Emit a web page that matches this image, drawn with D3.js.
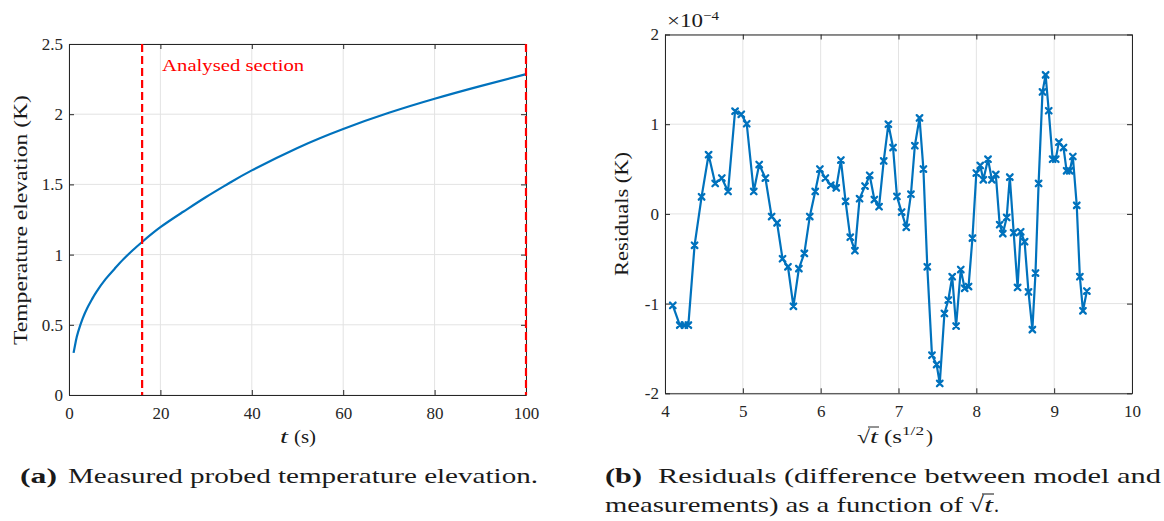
<!DOCTYPE html>
<html><head><meta charset="utf-8">
<script src="https://cdn.jsdelivr.net/npm/d3@7"></script>
<style>
body{margin:0;background:#fff}
text{font-family:"Liberation Serif","DejaVu Serif",serif}
</style>
</head><body>
<svg id="c" width="1164" height="521"></svg>
<script>
// ---------- data: panel (a) ----------
const tempTimes  = [1, 1.5, 2, 3, 4, 5, 6, 8, 10, 12, 14, 16, 20, 25, 30, 35, 40, 50, 60, 70, 80, 90, 100];
const tempValues = [0.30, 0.385, 0.45, 0.545, 0.62, 0.68, 0.735, 0.825, 0.90, 0.97, 1.033, 1.09, 1.195, 1.305, 1.41, 1.508, 1.60, 1.76, 1.895, 2.01, 2.11, 2.20, 2.285];
const sectionBounds = [16, 100];
const tTicks = [0, 20, 40, 60, 80, 100];
const tempTicks = [0, 0.5, 1, 1.5, 2, 2.5];

// ---------- data: panel (b) ----------
const sqrtT = [4.10,4.19,4.25,4.30,4.38,4.47,4.56,4.645,4.73,4.81,4.90,4.98,5.05,5.14,5.21,5.29,5.37,5.44,5.51,5.58,
  5.65,5.72,5.79,5.86,5.93,5.99,6.06,6.13,6.20,6.26,6.32,6.38,6.44,6.50,6.57,6.63,6.69,6.75,6.81,6.87,
  6.93,6.98,7.04,7.10,7.16,7.21,7.27,7.32,7.37,7.43,7.49,7.53,7.59,7.64,7.69,7.74,7.80,7.85,7.90,7.95,
  8.00,8.05,8.09,8.15,8.20,8.25,8.30,8.34,8.39,8.43,8.48,8.53,8.57,8.62,8.67,8.72,8.76,8.80,8.85,8.89,
  8.93,8.98,9.02,9.06,9.12,9.16,9.20,9.24,9.29,9.33,9.37,9.42];
const residuals = [-1.02,-1.24,-1.24,-1.24,-0.35,0.19,0.66,0.34,0.40,0.25,1.145,1.11,1.005,0.25,0.55,0.40,-0.03,-0.10,-0.50,-0.59,
  -1.03,-0.61,-0.44,-0.03,0.25,0.50,0.40,0.32,0.29,0.60,0.14,-0.26,-0.41,0.17,0.31,0.43,0.16,0.08,0.59,1.00,
  0.74,0.195,0.02,-0.15,0.22,0.76,1.07,0.50,-0.59,-1.575,-1.68,-1.89,-1.11,-0.96,-0.70,-1.25,-0.62,-0.83,-0.81,-0.27,
  0.455,0.54,0.38,0.61,0.38,0.44,-0.12,-0.22,-0.04,0.41,-0.21,-0.82,-0.20,-0.31,-0.87,-1.29,-0.66,0.34,1.36,1.55,
  1.15,0.61,0.61,0.80,0.74,0.48,0.48,0.64,0.095,-0.70,-1.08,-0.86]; // units of 1e-4 K
const sqrtTicks = [4, 5, 6, 7, 8, 9, 10];
const residTicks = [-2, -1, 0, 1, 2];

// ---------- drawing ----------
const svg = d3.select('#c');
svg.append('rect').attr('width',1164).attr('height',521).attr('fill','#fff');
const AX = '#262626', GRID = '#e3e3e3', BLUE = '#0072BD', RED = '#FF0000', TXT = '#1a1a1a';

function frame(x, y, xticks, yticks, fmtY) {
  const [x0,x1] = x.range(), [y0,y1] = y.range();
  const g = svg.append('g');
  g.append('g').selectAll('line').data(xticks).join('line')
    .attr('x1',d=>x(d)).attr('x2',d=>x(d)).attr('y1',y0).attr('y2',y1)
    .attr('stroke',GRID).attr('stroke-width',1);
  g.append('g').selectAll('line').data(yticks).join('line')
    .attr('x1',x0).attr('x2',x1).attr('y1',d=>y(d)).attr('y2',d=>y(d))
    .attr('stroke',GRID).attr('stroke-width',1);
  const styleAx = s => { s.select('.domain').attr('stroke',AX); s.selectAll('.tick line').attr('stroke',AX);
     s.selectAll('.tick text').style('fill',AX).attr('font-size',17).style('font-family','"Liberation Serif",serif'); };
  g.append('g').attr('transform',`translate(0,${y0})`)
    .call(d3.axisBottom(x).tickValues(xticks).tickSize(-5).tickPadding(11.5).tickSizeOuter(0).tickFormat(d=>String(d))).call(styleAx);
  g.append('g').attr('transform',`translate(0,${y1})`)
    .call(d3.axisTop(x).tickValues(xticks).tickSize(-5).tickSizeOuter(0).tickFormat('')).call(styleAx);
  g.append('g').attr('transform',`translate(${x0},0)`)
    .call(d3.axisLeft(y).tickValues(yticks).tickSize(-5).tickPadding(6).tickSizeOuter(0).tickFormat(fmtY)).call(styleAx);
  g.append('g').attr('transform',`translate(${x1},0)`)
    .call(d3.axisRight(y).tickValues(yticks).tickSize(-5).tickSizeOuter(0).tickFormat('')).call(styleAx);
  return g;
}

function seq(x, y, parts, size, fill) {
  let cx = x; const nodes = [];
  parts.forEach(p => {
    const t = svg.append('text').attr('x',cx).attr('y',y + (p.dy||0)).attr('font-size',p.size||size).text(p.text)
      .style('fill', p.fill || fill || TXT);
    if (p.italic) t.attr('font-style','italic');
    if (p.bold) t.attr('font-weight','bold');
    if (p.len) t.attr('textLength',p.len).attr('lengthAdjust','spacingAndGlyphs');
    const w = p.len || t.node().getComputedTextLength();
    nodes.push({x:cx, w});
    cx += w + (p.gap||0);
  });
  return nodes;
}

// ----- panel (a) -----
const xL = d3.scaleLinear().domain([0,100]).range([69,526]);
const yL = d3.scaleLinear().domain([0,2.5]).range([395,44]);
frame(xL, yL, tTicks, tempTicks, d=>String(d));
const tempData = tempTimes.map((t,i)=>[t,tempValues[i]]);
svg.append('path').datum(tempData)
  .attr('d', d3.line().x(d=>xL(d[0])).y(d=>yL(d[1])).curve(d3.curveNatural))
  .attr('fill','none').attr('stroke',BLUE).attr('stroke-width',2.2);
svg.append('g').selectAll('line').data(sectionBounds).join('line')
  .attr('x1',d=>xL(d)).attr('x2',d=>xL(d)).attr('y1',yL(2.5)).attr('y2',yL(0))
  .attr('stroke',RED).attr('stroke-width',2.2).attr('stroke-dasharray','8,4');
svg.append('text').attr('x',xL(sectionBounds[0])+20).attr('y',71).attr('font-size',17)
  .style('fill',RED).attr('textLength',142).attr('lengthAdjust','spacingAndGlyphs').text('Analysed section');
svg.append('text').attr('transform','translate(27,220) rotate(-90)').attr('text-anchor','middle').style('fill',TXT)
  .attr('font-size',18.5).attr('textLength',250).attr('lengthAdjust','spacingAndGlyphs').text('Temperature elevation (K)');
seq(280, 443, [{text:'t', italic:true, len:8, gap:6},{text:'(s)', len:22}], 19);

// ----- panel (b) -----
const xR = d3.scaleLinear().domain([4,10]).range([665,1132]);
const yR = d3.scaleLinear().domain([-2,2]).range([393.3,34.5]);
frame(xR, yR, sqrtTicks, residTicks, d=>String(d));
const resData = sqrtT.map((s,i)=>[s,residuals[i]]);
svg.append('path').datum(resData)
  .attr('d', d3.line().x(d=>xR(d[0])).y(d=>yR(d[1])))
  .attr('fill','none').attr('stroke',BLUE).attr('stroke-width',2.2).attr('stroke-linejoin','round');
const mk = svg.append('g').attr('stroke',BLUE).attr('stroke-width',2.3).attr('stroke-linecap','round');
resData.forEach(d => {
  const cx = xR(d[0]), cy = yR(d[1]), r = 2.8;
  mk.append('path').attr('d',`M${cx-r},${cy-r}L${cx+r},${cy+r}M${cx-r},${cy+r}L${cx+r},${cy-r}`);
});
seq(667, 27, [{text:'×10', len:36},{text:'−4', size:13, dy:-7, len:16}], 18);
svg.append('text').attr('transform','translate(628,214) rotate(-90)').attr('text-anchor','middle').style('fill',TXT)
  .attr('font-size',18.5).attr('textLength',124).attr('lengthAdjust','spacingAndGlyphs').text('Residuals (K)');
{
  const n = seq(857, 443, [{text:'√', len:13},{text:'t', italic:true, len:8, gap:6},{text:'(s', len:18},{text:'1/2', size:13, dy:-8, len:22, gap:2},{text:')', len:7}], 19);
  svg.append('line').attr('x1',n[0].x+11).attr('x2',n[1].x+n[1].w+1).attr('y1',427).attr('y2',427).attr('stroke',AX).attr('stroke-width',1);
}

// ----- captions -----
seq(20, 483, [{text:'(a)', bold:true, len:37, gap:11},{text:'Measured probed temperature elevation.', len:470}], 22);
seq(605, 483, [{text:'(b)', bold:true, len:37, gap:16},{text:'Residuals (difference between model and', len:503}], 22);
{
  const n = seq(605, 512, [{text:'measurements) as a function of', len:358, gap:6},{text:'√', len:15},{text:'t', italic:true, len:9, gap:1},{text:'.', len:5}], 22);
  svg.append('line').attr('x1',n[1].x+13).attr('x2',n[2].x+n[2].w+1).attr('y1',494).attr('y2',494).attr('stroke','#111').attr('stroke-width',1);
}
</script>
</body></html>
